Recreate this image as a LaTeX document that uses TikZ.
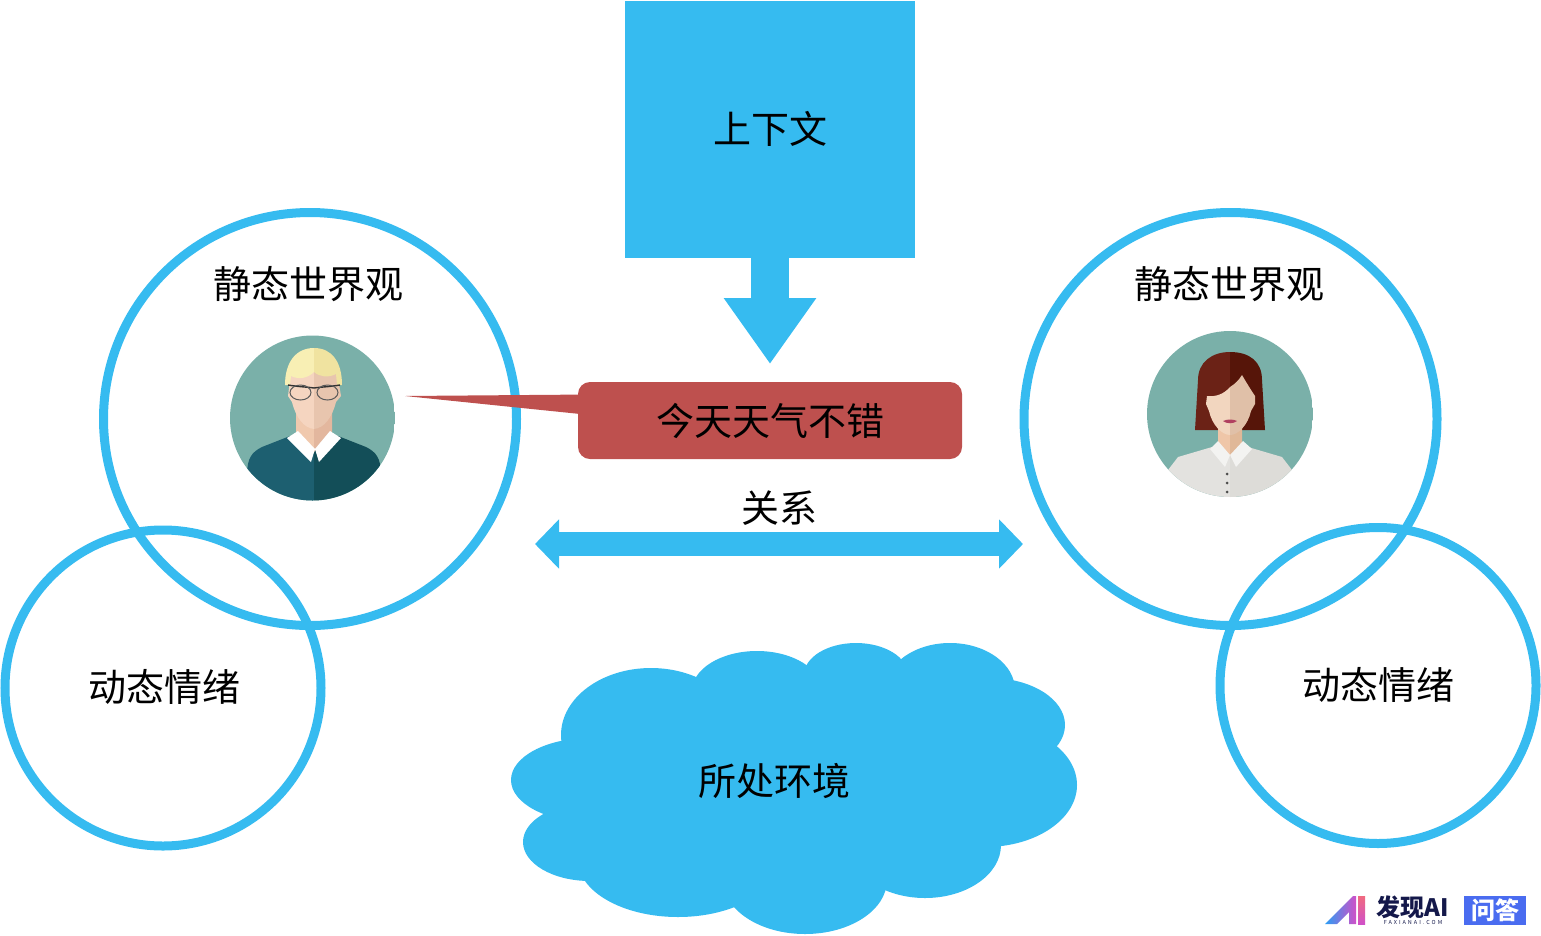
\documentclass[tikz,border=0pt]{standalone}
\usepackage{fontspec}
\setmainfont{Noto Sans CJK SC}
\usetikzlibrary{arrows.meta}
\definecolor{skyblue}{HTML}{36BBF0}
\definecolor{bubblered}{HTML}{BE504E}
\definecolor{avatarbg}{HTML}{7AB0A9}
\definecolor{logoink}{HTML}{14184A}
\definecolor{logoblue}{HTML}{4A6CF0}
\definecolor{logocyan}{HTML}{2A9DF4}
\definecolor{logopink}{HTML}{D050C8}
\definecolor{logored}{HTML}{F06A80}
\tikzset{
	x=1pt,y=-1pt,
	ring/.style={draw=skyblue,line width=9pt},
	zh/.style={font=\fontsize{38}{38}\selectfont,black,inner sep=0pt},
	half/.code={\definecolor{halfcolor}{HTML}{#1}\tikzset{fill=halfcolor,draw=none}},
}
\begin{document}
\begin{tikzpicture}
	\useasboundingbox (0,0) rectangle (1541,935);
	%rings
	\node[circle,ring,minimum size=413pt,inner sep=0pt] (StaticL) at (310,419) {};
	\node[circle,ring,minimum size=413pt,inner sep=0pt] (StaticR) at (1230.5,419) {};
	\node[circle,ring,minimum size=316pt,inner sep=0pt] (MoodL) at (163,688) {};
	\node[circle,ring,minimum size=316pt,inner sep=0pt] (MoodR) at (1378,685.5) {};
	
	%context and arrows
	\node[fill=skyblue,minimum width=290pt,minimum height=257pt,inner sep=0pt] (Context) at (770,129.5) {};
	\coordinate (CtxTip) at (770,364);
	\draw[skyblue,line width=38pt,-{Triangle[length=66pt,width=88pt,sep=0pt]}] (Context.south) -- (CtxTip);
	\coordinate (RelL) at (535,544); \coordinate (RelR) at (1023,544);
	\draw[skyblue,line width=24pt,{Triangle[length=24pt,width=48pt]}-{Triangle[length=24pt,width=48pt]}] (RelL) -- (RelR);
	
	%speech bubble
	\coordinate (Tail) at (405,396);
	\node[fill=bubblered,rounded corners=12pt,minimum width=384pt,minimum height=77pt,inner sep=0pt] (Say) at (770,420.5) {};
	\fill[bubblered] (Tail) -- (590,394.5) -- (590,415) -- cycle;
	
	%cloud
	\foreach \cx/\cy/\rx/\ry in {651/735/90/67,757/691/65/40,856/675/52/32,950/690/65/47,990/725/75/47,985/785/92/62,925/845/76/53,805/880/82/54,678/860/100/57,590/780/79/42,590/842/67/39,790/770/200/90}
		\fill[skyblue] (\cx,\cy) ellipse [x radius=\rx,y radius=\ry];
	
	%man
	\begin{scope}
		\clip (312.5,418) circle (82.5);
		\fill[avatarbg] (230,335) rectangle (395,501);
		\fill[half=1D5F70] (247,475) .. controls (247,458) and (252,452) .. (262,447) -- (290,436) -- (314,446) -- (314,505) -- (240,505) -- cycle;
		\fill[half=134E58] (381,475) .. controls (381,458) and (376,452) .. (366,447) -- (338,436) -- (314,446) -- (314,505) -- (388,505) -- cycle;
		\fill[half=F0C9AE] (296,410) -- (296,432) -- (314,452) -- (314,410) -- cycle;
		\fill[half=E3B79E] (332,410) -- (332,432) -- (314,452) -- (314,410) -- cycle;
		\fill[white] (287,438) -- (298,431) -- (315,449) -- (311,462) -- cycle;
		\fill[white] (341,438) -- (330,431) -- (315,449) -- (319,462) -- cycle;
		\fill[half=F5D5C0] (314,366) -- (291,372) -- (288,396) -- (292,402) .. controls (296,418) and (304,428) .. (314,429) -- cycle;
		\fill[half=E8C5AE] (314,366) -- (337,372) -- (341,396) -- (336,402) .. controls (332,418) and (324,428) .. (314,429) -- cycle;
		\fill[half=F8EFB4] (314,348) .. controls (296,348) and (285,362) .. (285,385) -- (290,385) -- (291,376) .. controls (299,380) and (308,378) .. (314,372) -- cycle;
		\fill[half=F0E3A0] (314,348) .. controls (332,348) and (342,362) .. (342,385) -- (337,385) -- (336,374) .. controls (328,378) and (320,377) .. (314,372) -- cycle;
		\draw[black!80,line width=1.4pt] (288,385) .. controls (300,387) and (308,387) .. (314,388) .. controls (320,387) and (328,387) .. (340,385);
		\draw[black!65,line width=1pt] (300.5,392.5) ellipse [x radius=10.5,y radius=7.5] (327.5,392.5) ellipse [x radius=10.5,y radius=7.5];
	\end{scope}
	
	%woman
	\begin{scope}
		\clip (1230,414) circle (83);
		\fill[avatarbg] (1147,331) rectangle (1313,497);
		\fill[half=6B2216] (1230,352) .. controls (1212,352) and (1198,362) .. (1198,380) -- (1195,430) -- (1230,430) -- cycle;
		\fill[half=561509] (1230,352) .. controls (1250,352) and (1262,362) .. (1262,380) -- (1265,430) -- (1230,430) -- cycle;
		\fill[half=E3E2DF] (1168,470) -- (1178,457) -- (1212,447) -- (1230,455) -- (1230,500) -- (1160,500) -- cycle;
		\fill[half=DDDCD8] (1292,470) -- (1282,457) -- (1248,447) -- (1230,455) -- (1230,500) -- (1300,500) -- cycle;
		\fill[half=EFC6A8] (1218,420) -- (1218,444) -- (1230,456) -- (1230,420) -- cycle;
		\fill[half=E0B898] (1242,420) -- (1242,444) -- (1230,456) -- (1230,420) -- cycle;
		\fill[half=F3F3F1] (1210,449) -- (1218,441) -- (1230,455) -- (1225,467) -- cycle;
		\fill[half=F3F3F1] (1252,449) -- (1243,441) -- (1230,455) -- (1236,467) -- cycle;
		\fill[half=F2D6BF] (1230,387) .. controls (1224,394) and (1216,397) .. (1207,396) -- (1206,404) -- (1209,411) .. controls (1212,425) and (1222,435) .. (1230,435) -- cycle;
		\fill[half=E0C0A8] (1230,387) .. controls (1235,384) and (1239,380) .. (1242,375) .. controls (1246,382) and (1251,390) .. (1255,396) -- (1255,404) -- (1251,411) .. controls (1248,425) and (1238,435) .. (1230,435) -- cycle;
		\fill[half=B04060] (1223,421) .. controls (1227,419) and (1233,419) .. (1237,421) .. controls (1233,424) and (1227,424) .. (1223,421) -- cycle;
		\foreach \by in {474,483,492} \fill[black!70] (1227,\by) circle (1.5);
	\end{scope}
	
	%labels
	\node[zh] (CtxText) at (770,129) {上下文};
	\node[zh] (StaticTextL) at (308,284) {静态世界观}; \node[zh] (StaticTextR) at (1229,284) {静态世界观};
	\node[zh] (MoodTextL) at (164,687) {动态情绪}; \node[zh] (MoodTextR) at (1378,685) {动态情绪};
	\node[zh] (SayText) at (770,421) {今天天气不错};
	\node[zh] (RelText) at (779,508) {关系};
	\node[zh] (PlaceText) at (774,781) {所处环境};
	
	%logo
	\shade[left color=logocyan,right color=logopink] (1325,924) -- (1353,896) -- (1356,896) -- (1356,924) -- (1349,924) -- (1349,912) -- (1337,924) -- cycle;
	\shade[top color=logored,bottom color=logopink] (1358,896) rectangle (1365,924);
	\node[inner sep=0pt,text=logoink,font=\fontsize{24}{24}\selectfont\bfseries] (LogoName) at (1413,907) {发现AI};
	\node[inner sep=0pt,text=logoink,font=\fontsize{5.5}{6}\selectfont\addfontfeature{LetterSpace=36}] (LogoSite) at (1413,922) {FAXIANAI.COM};
	\node[fill=logoblue,text=white,minimum width=62pt,minimum height=29pt,inner sep=0pt,font=\fontsize{24}{24}\selectfont\bfseries] (LogoAsk) at (1495,910.5) {问答};
\end{tikzpicture}
\end{document}
